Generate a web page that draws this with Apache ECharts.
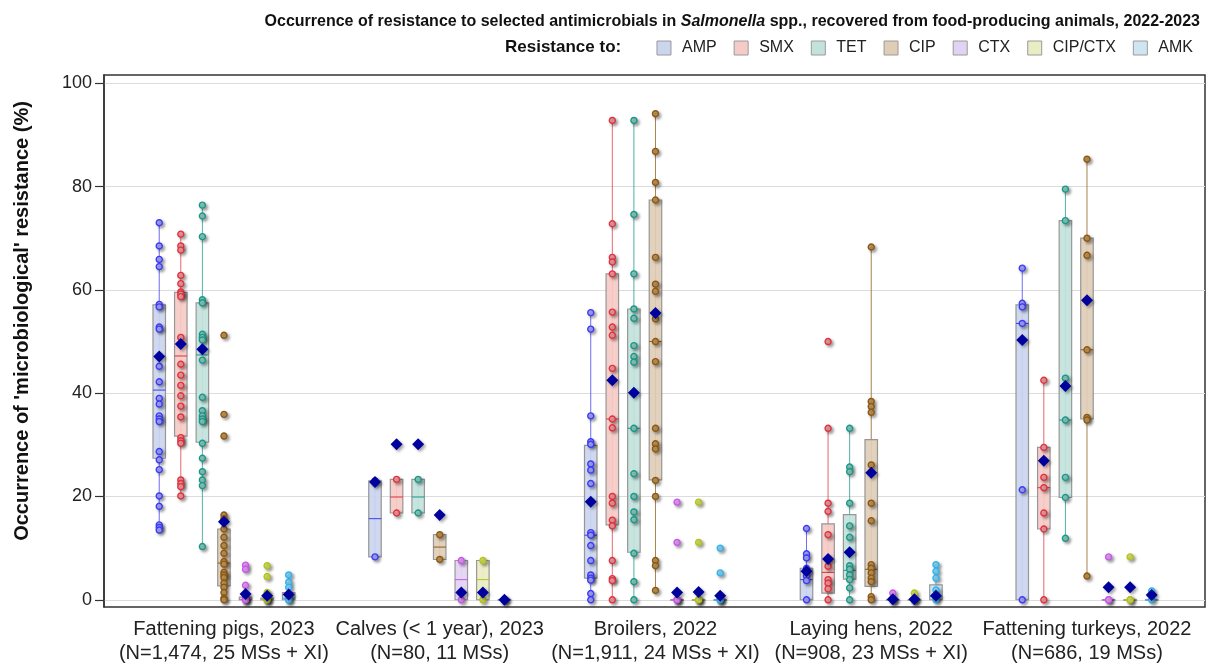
<!DOCTYPE html>
<html><head><meta charset="utf-8">
<script src="https://cdn.jsdelivr.net/npm/echarts@6/dist/echarts.min.js"></script>
<style>html,body{margin:0;padding:0;background:#fff}#c{width:1206px;height:665px}</style>
</head><body><div id="c"></div>
<script>
// ---------------- DATA ----------------
const categories = [
  'Fattening pigs, 2023\n(N=1,474, 25 MSs + XI)',
  'Calves (< 1 year), 2023\n(N=80, 11 MSs)',
  'Broilers, 2022\n(N=1,911, 24 MSs + XI)',
  'Laying hens, 2022\n(N=908, 23 MSs + XI)',
  'Fattening turkeys, 2022\n(N=686, 19 MSs)'
];
const antimicrobials = ['AMP', 'SMX', 'TET', 'CIP', 'CTX', 'CIP/CTX', 'AMK'];
const yTicks = [0, 20, 40, 60, 80, 100];

// box stats per animal group: [whisker low, Q1, median, Q3, whisker high]
const AMP_box = [[13.5, 27.4, 40.6, 57.1, 73.0], [8.3, 8.3, 15.7, 23.0, 23.0], [0, 4.2, 12.5, 29.9, 55.6], [0, 0, 3.9, 6.1, 13.8], [0, 0, 53.5, 57.1, 64.2]];
const SMX_box = [[20.1, 31.7, 47.2, 59.5, 70.8], [16.8, 16.8, 19.9, 23.3, 23.3], [0, 14.5, 35.0, 63.1, 92.8], [0, 1.3, 5.3, 14.7, 33.2], [0, 13.7, 21.7, 29.5, 42.5]];
const TET_box = [[10.3, 30.5, 47.4, 57.5, 76.4], [16.8, 16.8, 19.9, 23.3, 23.3], [0, 9.2, 33.2, 56.3, 92.8], [0, 4.0, 5.7, 16.5, 33.2], [11.9, 19.8, 34.8, 73.4, 79.5]];
const CIP_box = [[0, 2.7, 7.1, 13.7, 16.4], [7.8, 7.8, 10.2, 12.6, 12.6], [1.8, 23.2, 50.0, 77.4, 94.1], [0, 2.6, 5.9, 31.0, 68.3], [4.6, 35.0, 48.4, 70.0, 85.3]];
const CTX_box = [[0, 0, 0, 0.5, 0.5], [0, 0, 3.9, 7.6, 7.6], [0, 0, 0, 0, 0], [0, 0, 0, 0, 1.3], [0, 0, 0, 0, 0]];
const CIPCTX_box = [[0, 0, 0, 0.3, 0.3], [0, 0, 3.9, 7.6, 7.6], [0, 0, 0, 0, 0], [0, 0, 0, 0, 1.3], [0, 0, 0, 0, 0]];
const AMK_box = [[0, 0, 0.3, 1.4, 4.8], [0, 0, 0, 0, 0], [0, 0, 0, 0, 0], [0, 0, 0.6, 2.9, 6.8], [0, 0, 0, 0, 1.7]];

// means per animal group
const AMP_mean = [47.1, 22.8, 19.0, 5.5, 50.3];
const SMX_mean = [49.5, 30.1, 42.5, 7.9, 26.9];
const TET_mean = [48.5, 30.1, 40.1, 9.2, 41.4];
const CIP_mean = [15.1, 16.4, 55.5, 24.6, 58.0];
const CTX_mean = [1.1, 1.4, 1.4, 0.1, 2.4];
const CIPCTX_mean = [0.8, 1.4, 1.5, 0.1, 2.4];
const AMK_mean = [1.0, 0, 0.8, 0.8, 0.9];

// individual country values per animal group
const AMP_points = [
  [73.0, 68.5, 65.9, 64.5, 57.2, 56.7, 52.8, 52.4, 45.2, 42.2, 39.0, 37.9, 35.6, 35.0, 34.5, 28.7, 27.1, 25.2, 20.1, 18.1, 14.5, 14.0, 13.5],
  [23.0, 8.3],
  [55.6, 52.4, 35.6, 30.6, 30.1, 26.3, 25.1, 22.5, 13.0, 12.5, 10.5, 7.6, 4.8, 4.2, 3.8, 1.2, 0],
  [13.8, 8.9, 8.1, 6.1, 5.5, 4.6, 3.7, 0],
  [64.2, 57.4, 56.7, 53.5, 21.3, 0]
];
const SMX_points = [
  [70.8, 68.5, 67.7, 62.8, 61.2, 59.6, 59.2, 58.7, 50.8, 45.6, 43.5, 41.5, 39.5, 37.5, 35.4, 31.4, 30.8, 30.3, 23.2, 22.5, 21.9, 20.1],
  [23.3, 16.8],
  [92.8, 72.8, 66.3, 65.4, 63.1, 55.7, 52.8, 51.2, 44.8, 35.0, 33.3, 20.0, 18.7, 15.4, 14.3, 7.6, 4.1, 3.7, 0],
  [50.0, 33.2, 18.7, 17.1, 12.6, 7.9, 6.5, 3.9, 3.2, 2.1, 0],
  [42.5, 29.5, 23.7, 21.7, 16.8, 13.7, 0]
];
const TET_points = [
  [76.4, 74.3, 70.3, 58.1, 57.5, 51.4, 50.8, 50.3, 46.4, 39.2, 36.6, 35.6, 35.0, 34.5, 30.3, 27.4, 24.8, 23.2, 22.1, 10.3],
  [23.3, 16.8],
  [92.8, 74.6, 63.1, 56.3, 54.5, 49.2, 47.1, 46.0, 33.2, 24.4, 20.0, 17.0, 15.5, 9.0, 3.5, 0],
  [33.2, 25.7, 24.8, 18.7, 14.3, 12.1, 6.6, 5.9, 4.8, 3.9, 2.3, 0],
  [79.5, 73.4, 42.9, 34.8, 23.7, 19.8, 11.9]
];
const CIP_points = [
  [51.2, 35.9, 31.7, 16.4, 15.7, 13.7, 12.1, 10.5, 9.0, 7.4, 6.9, 5.3, 4.8, 4.3, 3.2, 2.4, 1.4, 0.3, 0],
  [12.6, 7.8],
  [94.1, 86.8, 80.8, 77.4, 66.3, 61.1, 59.7, 54.4, 50.0, 46.1, 33.2, 30.2, 29.2, 23.1, 20.0, 7.6, 6.6, 1.8],
  [68.3, 38.4, 37.4, 36.3, 26.1, 18.7, 15.3, 6.8, 6.1, 5.2, 4.2, 3.5, 0.6, 0],
  [85.3, 70.0, 66.7, 48.4, 35.3, 34.8, 4.6]
];
const CTX_points = [
  [6.7, 5.9, 2.8, 0.5, 0, 0, 0],
  [7.6, 0],
  [18.9, 11.1, 0, 0, 0],
  [1.3, 0, 0],
  [8.3, 0, 0]
];
const CIPCTX_points = [
  [6.6, 4.5, 1.4, 0, 0, 0],
  [7.6, 0],
  [18.9, 11.1, 0, 0, 0],
  [1.3, 0, 0],
  [8.3, 0, 0]
];
const AMK_points = [
  [4.8, 3.4, 2.4, 1.0, 0, 0],
  [0, 0],
  [10.0, 5.2, 0, 0, 0],
  [6.8, 5.5, 4.2, 1.9, 0.6, 0],
  [1.7, 0]
];

// ---------------- STYLE ----------------
const STYLE = {
  'AMP':     {c: '#3b3bf5', fill: '#cbd5ee', pf: '#a9a9ff'},
  'SMX':     {c: '#e0313c', fill: '#f5cbc7', pf: '#f2a2a8'},
  'TET':     {c: '#1a9786', fill: '#c3e2dc', pf: '#8fd0c6'},
  'CIP':     {c: '#8a5815', fill: '#dfcdb7', pf: '#c79a5a'},
  'CTX':     {c: '#cc55ee', fill: '#e3d3f3', pf: '#e6a6f6'},
  'CIP/CTX': {c: '#b3c21a', fill: '#e9edc3', pf: '#dbe56a'},
  'AMK':     {c: '#2eb4ee', fill: '#cfe5f2', pf: '#92d8f7'}
};
const boxes = [AMP_box, SMX_box, TET_box, CIP_box, CTX_box, CIPCTX_box, AMK_box];
const means = [AMP_mean, SMX_mean, TET_mean, CIP_mean, CTX_mean, CIPCTX_mean, AMK_mean];
const points = [AMP_points, SMX_points, TET_points, CIP_points, CTX_points, CIPCTX_points, AMK_points];

const OFFSET = 0.1;     // spacing between antimicrobials inside a group (axis units)
const BOX_HALF = 0.029; // half box width (axis units)
const FONT = 'Liberation Sans, Arial, Helvetica, sans-serif';

const series = [];
antimicrobials.forEach(function (ab, j) {
  const st = STYLE[ab];
  const off = (j - 3) * OFFSET;
  series.push({
    name: ab, type: 'custom', z: 2,
    data: boxes[j].map(function (b, g) { return [g + off, b[0], b[1], b[2], b[3], b[4]]; }),
    encode: {x: 0, y: [1, 2, 3, 4, 5]},
    renderItem: function (params, api) {
      const x = api.value(0);
      const lo = api.coord([x, api.value(1)]);
      const q1 = api.coord([x, api.value(2)]);
      const md = api.coord([x, api.value(3)]);
      const q3 = api.coord([x, api.value(4)]);
      const hi = api.coord([x, api.value(5)]);
      const half = api.coord([x + BOX_HALF, 0])[0] - lo[0];
      return {type: 'group', children: [
        {type: 'line', shape: {x1: lo[0], y1: lo[1], x2: hi[0], y2: hi[1]}, style: {stroke: st.c, lineWidth: 1, opacity: 0.75}},
        {type: 'rect', shape: {x: q1[0] - half, y: q3[1], width: 2 * half, height: Math.max(q1[1] - q3[1], 0.5)},
          style: {fill: st.fill, stroke: '#8f8f8f', lineWidth: 1.2, opacity: 0.92}},
        {type: 'line', shape: {x1: md[0] - half, y1: md[1], x2: md[0] + half, y2: md[1]}, style: {stroke: st.c, lineWidth: 1}}
      ]};
    }
  });
  const pts = [];
  points[j].forEach(function (arr, g) { arr.forEach(function (v) { pts.push([g + off, v]); }); });
  series.push({
    name: ab, type: 'scatter', z: 3, symbol: 'circle', symbolSize: 6,
    data: pts,
    itemStyle: {color: st.pf, borderColor: st.c, borderWidth: 1.4, opacity: 1,
      shadowColor: 'rgba(0,0,0,0.35)', shadowBlur: 3, shadowOffsetX: 2, shadowOffsetY: 2}
  });
});
antimicrobials.forEach(function (ab, j) {
  const off = (j - 3) * OFFSET;
  series.push({
    name: 'Mean ' + ab, type: 'scatter', z: 4, symbol: 'diamond', symbolSize: [12, 12],
    data: means[j].map(function (m, g) { return [g + off, m]; }),
    itemStyle: {color: '#00009c', opacity: 1, shadowColor: 'rgba(0,0,0,0.35)', shadowBlur: 3, shadowOffsetX: 2, shadowOffsetY: 2}
  });
});

const chart = echarts.init(document.getElementById('c'), null, {renderer: 'canvas'});
chart.setOption({
  animation: false,
  backgroundColor: '#fff',
  textStyle: {fontFamily: FONT},
  title: [{
    text: '{b|Occurrence of resistance to selected antimicrobials in }{i|Salmonella}{b| spp., recovered from food-producing animals, 2022-2023}',
    right: 1, top: 9,
    textStyle: {rich: {
      b: {fontFamily: FONT, fontWeight: 'bold', fontSize: 16, color: '#111'},
      i: {fontFamily: FONT, fontWeight: 'bold', fontStyle: 'italic', fontSize: 16, color: '#111'}
    }}
  }, {
    text: 'Resistance to:', left: 500, top: 34,
    textStyle: {fontFamily: FONT, fontWeight: 'bold', fontSize: 17, color: '#111'}
  }],
  legend: {
    right: 8, top: 35, icon: 'rect', itemWidth: 14, itemHeight: 14, itemGap: 17,
    selectedMode: false,
    textStyle: {fontFamily: FONT, fontSize: 16, color: '#222', padding: [0, 0, 0, 6]},
    data: antimicrobials.map(function (ab) {
      return {name: ab, itemStyle: {color: STYLE[ab].fill, borderColor: '#9a9a9a', borderWidth: 1}};
    })
  },
  grid: {left: 104, right: 1, top: 75, bottom: 58, show: true, borderColor: '#333', borderWidth: 1.5, backgroundColor: '#fff'},
  xAxis: {
    type: 'value', min: -0.556, max: 4.547,
    axisLine: {show: false}, axisTick: {show: false}, splitLine: {show: false},
    axisLabel: {
      customValues: [0, 1, 2, 3, 4],
      formatter: function (v) { return categories[Math.round(v)]; },
      fontFamily: FONT, fontSize: 20, color: '#222', lineHeight: 24, margin: 10
    }
  },
  yAxis: {
    type: 'value', min: -1.4, max: 101.6,
    name: "Occurrence of 'microbiological' resistance (%)",
    nameLocation: 'middle', nameGap: 72,
    nameTextStyle: {fontFamily: FONT, fontWeight: 'bold', fontSize: 20, color: '#111', padding: [0, 0, 0, 40]},
    axisLine: {show: true, onZero: false, lineStyle: {color: '#333', width: 1.5}},
    axisTick: {show: true, customValues: yTicks, length: 9, lineStyle: {color: '#333', width: 1.2}},
    axisLabel: {customValues: yTicks, fontFamily: FONT, fontSize: 18, color: '#222', margin: 12},
    splitLine: {show: true, lineStyle: {color: '#dcdcdc', width: 1.2}}
  },
  series: series
});
</script>
</body></html>
